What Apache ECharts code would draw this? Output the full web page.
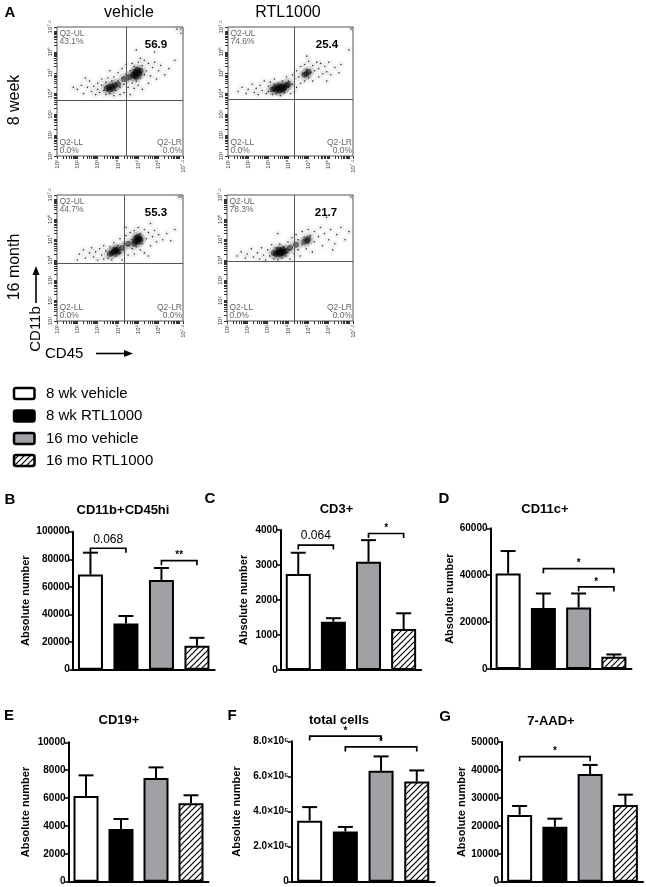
<!DOCTYPE html>
<html><head><meta charset="utf-8">
<script src="https://cdn.jsdelivr.net/npm/echarts@6/dist/echarts.min.js"></script>
<style>html,body{margin:0;padding:0;background:#fff}#c{width:646px;height:887px}</style>
</head><body><div id="c"></div>
<script>
// ---------------- DATA ----------------
const groups = ['8 wk vehicle', '8 wk RTL1000', '16 mo vehicle', '16 mo RTL1000'];
const colHeads = ['vehicle', 'RTL1000'];
const rowHeads = ['8 week', '16 month'];

// flow plots (A): percentages and gate positions (log decades)
const ulPct = ['43.1%', '74.6%', '44.7%', '78.3%'];
const urVal = ['56.9', '25.4', '55.3', '21.7'];
const llPct = ['0.0%', '0.0%', '0.0%', '0.0%'];
const lrPct = ['0.0%', '0.0%', '0.0%', '0.0%'];
const gateX = [4.40, 4.31, 4.33, 4.31];
const gateY = [3.70, 3.74, 3.85, 3.92];
const logTickLabels = [1, 2, 3, 4, 5, 6, 7.2];

// events [CD45 decade, CD11b decade]
const spread8wkVeh = [[2.0,4.2],[2.2,4.4],[2.3,4.0],[2.5,4.3],[2.6,4.6],[2.7,4.1],[2.8,4.35],[2.9,3.95],[3.0,4.5],[3.0,4.2],[3.1,4.05],[3.2,4.4],[3.2,4.7],[3.3,4.15],[3.4,3.95],[3.4,4.55],[3.5,4.75],[3.6,4.0],[3.7,4.6],[3.8,3.9],[3.8,4.8],[3.9,4.15],[4.0,4.6],[4.0,5.0],[4.1,4.3],[4.1,3.95],[4.2,4.75],[4.2,5.2],[4.3,4.45],[4.3,4.05],[4.4,4.9],[4.4,5.4],[4.5,4.3],[4.5,4.65],[4.6,5.1],[4.6,3.95],[4.7,4.5],[4.7,5.45],[4.8,4.25],[4.8,5.3],[4.9,4.6],[5.0,5.5],[5.0,4.4],[5.1,5.7],[5.1,4.75],[5.2,5.35],[5.2,4.2],[5.3,4.9],[5.3,5.6],[5.4,5.1],[5.5,4.5],[5.5,5.45],[5.6,4.85],[5.7,5.25],[5.8,5.5],[5.9,4.7],[6.0,5.1],[6.1,5.35],[6.3,4.9],[6.5,5.2],[3.6,5.1],[2.4,4.75],[1.8,4.3],[5.8,6.0],[4.9,6.1],[6.8,5.6],[7.1,7.1],[6.9,7.1],[7.1,6.9]];
const core8wkVeh = [[4.8,4.85],[4.9,4.95],[5.0,5.05],[5.05,4.95],[4.85,5.05],[4.95,5.15],[5.1,5.1],[4.75,4.9],[4.9,4.8],[3.55,4.3],[3.7,4.35],[3.85,4.4],[3.6,4.2],[3.75,4.25],[3.45,4.25],[4.0,4.45],[4.3,4.7],[4.55,4.8]];
const spread8wkRtl = [[1.5,4.1],[1.7,4.3],[1.9,4.0],[2.0,4.2],[2.2,4.45],[2.3,4.05],[2.4,4.25],[2.5,3.95],[2.6,4.4],[2.7,4.15],[2.8,4.6],[2.9,4.0],[3.0,4.35],[3.0,4.1],[3.1,4.55],[3.2,3.95],[3.3,4.45],[3.3,4.7],[3.4,4.0],[3.5,4.5],[3.6,3.9],[3.7,4.6],[3.8,4.05],[3.9,4.8],[4.0,4.3],[4.0,4.6],[4.1,4.0],[4.2,4.9],[4.2,4.45],[4.3,4.7],[4.4,5.1],[4.4,4.3],[4.5,4.8],[4.6,5.3],[4.6,4.5],[4.7,4.95],[4.8,5.4],[4.8,4.6],[4.9,5.15],[5.0,4.75],[5.0,5.55],[5.1,5.0],[5.2,5.35],[5.2,4.6],[5.3,5.1],[5.4,5.5],[5.5,4.8],[5.5,5.2],[5.6,5.45],[5.7,4.95],[5.8,5.3],[5.9,5.05],[6.0,5.5],[6.1,4.9],[6.3,5.25],[6.5,5.0],[6.6,5.4],[4.3,4.1],[5.9,4.6],[4.9,5.8],[7.1,7.1],[7.0,6.1]];
const core8wkRtl = [[3.5,4.25],[3.6,4.3],[3.7,4.2],[3.4,4.2],[3.8,4.3],[3.55,4.15],[3.65,4.35],[3.3,4.25],[3.9,4.4],[3.45,4.3],[3.75,4.25],[3.2,4.2],[4.0,4.45],[4.9,4.95],[5.0,5.05],[4.8,4.9]];
const spread16moVeh = [[2.1,4.3],[2.3,4.5],[2.4,4.1],[2.6,4.35],[2.7,4.6],[2.8,4.15],[2.9,4.4],[3.0,4.0],[3.1,4.55],[3.2,4.25],[3.3,4.05],[3.3,4.7],[3.4,4.45],[3.5,4.1],[3.6,4.65],[3.7,4.0],[3.8,4.85],[3.9,4.2],[4.0,4.7],[4.1,4.35],[4.1,5.05],[4.2,4.0],[4.3,4.8],[4.3,4.5],[4.4,5.2],[4.5,4.25],[4.5,4.7],[4.6,5.35],[4.7,4.55],[4.7,5.0],[4.8,4.3],[4.8,5.45],[4.9,4.65],[5.0,5.6],[5.1,4.5],[5.1,5.3],[5.2,4.8],[5.3,5.5],[5.3,4.35],[5.4,5.05],[5.5,5.35],[5.6,4.7],[5.7,5.15],[5.8,5.45],[5.9,4.9],[6.0,5.25],[6.2,5.0],[6.4,5.3],[6.6,4.95],[5.6,5.8],[4.4,5.6],[2.0,4.0],[5.5,4.2],[6.8,5.5],[7.1,7.1],[7.0,7.1]];
const core16moVeh = [[4.85,4.9],[4.95,5.0],[5.05,5.05],[5.0,4.9],[4.9,5.1],[5.1,5.0],[4.8,4.8],[5.0,5.15],[3.8,4.4],[3.9,4.45],[3.95,4.5],[3.7,4.35],[4.0,4.4],[3.85,4.5],[4.2,4.6],[4.5,4.8],[3.6,4.3]];
const spread16moRtl = [[1.5,4.2],[1.7,4.4],[1.9,4.1],[2.0,4.3],[2.2,4.55],[2.3,4.15],[2.5,4.35],[2.6,4.05],[2.7,4.6],[2.8,4.25],[2.9,4.0],[3.0,4.5],[3.1,4.2],[3.2,4.75],[3.3,4.05],[3.4,4.6],[3.5,4.0],[3.6,4.8],[3.7,4.1],[3.8,4.65],[3.9,4.2],[4.0,4.9],[4.1,4.05],[4.1,4.5],[4.2,5.1],[4.3,4.3],[4.3,4.75],[4.4,5.25],[4.5,4.5],[4.5,5.0],[4.6,4.2],[4.7,5.4],[4.7,4.75],[4.8,5.1],[4.9,4.55],[5.0,5.5],[5.0,4.85],[5.1,5.2],[5.2,4.4],[5.3,5.4],[5.3,4.9],[5.5,5.15],[5.6,5.6],[5.7,4.7],[5.8,5.3],[6.0,5.0],[6.1,5.5],[6.3,4.8],[6.4,5.25],[6.6,5.6],[6.8,5.0],[7.0,5.4],[6.2,4.5],[5.9,6.1],[3.5,5.3],[7.1,7.1]];
const core16moRtl = [[3.6,4.4],[3.7,4.35],[3.5,4.35],[3.65,4.45],[3.8,4.4],[3.4,4.3],[3.55,4.5],[3.75,4.5],[3.9,4.45],[3.3,4.35],[3.6,4.3],[4.8,4.9],[4.95,4.95],[5.0,5.05],[4.1,4.6],[4.4,4.75]];

// bar panels (B-G): means and SEM
const panelLetters = ['B', 'C', 'D', 'E', 'F', 'G'];
const panelTitles = ['CD11b+CD45hi', 'CD3+', 'CD11c+', 'CD19+', 'total cells', '7-AAD+'];
const meanB = [69000, 33500, 65000, 17300];   const semB = [15800, 5400, 8700, 5800];
const meanC = [2740, 1380, 3090, 1170];       const semC = [610, 100, 620, 450];
const meanD = [40700, 26000, 26200, 5200];    const semD = [9600, 6200, 6000, 1000];
const meanE = [6150, 3780, 7440, 5620];       const semE = [1480, 720, 760, 580];
const meanF = [348000, 286000, 632000, 571000]; const semF = [77000, 26000, 82000, 63000];
const meanG = [23900, 19700, 38550, 27450];   const semG = [3200, 2850, 3250, 3700];
const yMax  = [100000, 4000, 60000, 10000, 800000, 50000];
const yStep = [20000, 1000, 20000, 2000, 200000, 10000];
// significance brackets: [from group, to group, height, label]
const sigB = [[0, 1, 88000, '0.068'], [2, 3, 79000, '**']];
const sigC = [[0, 1, 3570, '0.064'], [2, 3, 3900, '*']];
const sigD = [[1, 3, 42800, '*'], [2, 3, 35000, '*']];
const sigE = [];
const sigF = [[0, 2, 830000, '*'], [1, 3, 768000, '*']];
const sigG = [[0, 2, 44750, '*']];

// ---------------- LAYOUT / STYLE ----------------
const FONT = 'Liberation Sans, Arial, sans-serif';
const scatterBoxes = [[57, 27, 126, 129], [228, 27, 125, 129], [57, 195, 126, 126], [227, 195, 126, 126]];
const barBoxes = [[72.7, 531.7, 142, 138], [280.7, 530, 140.5, 140], [490.5, 528.3, 141, 140.7],
                  [68.5, 742.3, 140, 139.4], [291.8, 741.3, 142.8, 140.4], [502, 742, 141, 139.7]];
const nameGaps = [41, 31, 35, 37, 49, 35];
const titlePos = [[123, 510], [336.5, 509], [545, 509], [119, 720], [339, 720], [551, 721]];
const letterPos = [[10, 500], [210, 499], [444, 499], [9, 716], [232, 716], [445, 717]];

const hatch = document.createElement('canvas');
hatch.width = 6; hatch.height = 6;
(function () {
  const g = hatch.getContext('2d');
  g.fillStyle = '#fff'; g.fillRect(0, 0, 6, 6);
  g.strokeStyle = '#000'; g.lineWidth = 1.2;
  g.beginPath();
  g.moveTo(-1, 7); g.lineTo(7, -1);
  g.moveTo(-1, 1); g.lineTo(1, -1);
  g.moveTo(5, 7); g.lineTo(7, 5);
  g.stroke();
})();
const hatchFill = { image: hatch, repeat: 'repeat' };
const fills = ['#ffffff', '#000000', '#a1a1a5', hatchFill];

const spreads = [spread8wkVeh, spread8wkRtl, spread16moVeh, spread16moRtl];
const cores = [core8wkVeh, core8wkRtl, core16moVeh, core16moRtl];
const means = [meanB, meanC, meanD, meanE, meanF, meanG];
const sems = [semB, semC, semD, semE, semF, semG];
const sigs = [sigB, sigC, sigD, sigE, sigF, sigG];

const sup = { '0': '⁰', '1': '¹', '2': '²', '3': '³', '4': '⁴', '5': '⁵', '6': '⁶', '7': '⁷', '.': '·' };
const logFmt = v => '10' + String(+(+v).toFixed(1)).split('').map(c => sup[c] || c).join('');
const logTicks = [];
for (let d = 1; d <= 7; d++) for (let k = 1; k <= 9; k++) {
  const v = d + Math.log10(k); if (v <= 7.2 + 1e-9) logTicks.push(+v.toFixed(4));
}
logTicks.push(7.2);

// ---------------- BUILD ----------------
const grid = [], xAxis = [], yAxis = [], series = [], graphic = [];

scatterBoxes.forEach((b, k) => {
  grid.push({ left: b[0], top: b[1], width: b[2], height: b[3], show: true, borderColor: '#555', borderWidth: 1,
              backgroundColor: '#fff', containLabel: false, outerBoundsMode: 'none' });
  const ax = () => ({
    gridIndex: k, type: 'value', min: 1, max: 7.2, splitLine: { show: false }, axisLine: { show: false },
    axisTick: { show: true, customValues: logTicks, length: 3, lineStyle: { color: '#333', width: 1 } },
    axisLabel: { customValues: logTickLabels, formatter: logFmt, fontSize: 6, rotate: 90, margin: 4, color: '#333', fontFamily: FONT }
  });
  xAxis.push(ax()); yAxis.push(ax());
  // faint haze around the scattered events
  series.push({ type: 'scatter', xAxisIndex: k, yAxisIndex: k, data: spreads[k], symbol: 'circle', symbolSize: 7,
                itemStyle: { color: '#000', opacity: 0.045 }, silent: true, z: 2 });
  // dense cores
  series.push({ type: 'scatter', xAxisIndex: k, yAxisIndex: k, data: cores[k], symbol: 'circle', symbolSize: 12,
                itemStyle: { color: '#000', opacity: 0.1 }, silent: true, z: 2 });
  series.push({ type: 'scatter', xAxisIndex: k, yAxisIndex: k, data: cores[k], symbol: 'circle', symbolSize: 6,
                itemStyle: { color: '#000', opacity: 0.5 }, silent: true, z: 3 });
  // individual events
  series.push({ type: 'scatter', xAxisIndex: k, yAxisIndex: k, data: spreads[k], symbol: 'circle', symbolSize: 1.6,
                itemStyle: { color: '#111', opacity: 0.85 }, silent: true, z: 4,
                markLine: { silent: true, symbol: ['none', 'none'], label: { show: false }, animation: false,
                            lineStyle: { color: '#555', width: 1, type: 'solid' },
                            data: [{ xAxis: gateX[k] }, { yAxis: gateY[k] }] } });
  const qs = { fill: '#666', fontSize: 8.5, lineHeight: 8, fontFamily: FONT };
  graphic.push({ type: 'text', x: b[0] + 2.5, y: b[1] + 3, z: 50, style: Object.assign({ text: 'Q2-UL\n' + ulPct[k], align: 'left', verticalAlign: 'top' }, qs) });
  graphic.push({ type: 'text', x: b[0] + 2.5, y: b[1] + b[3] - 1.5, z: 50, style: Object.assign({ text: 'Q2-LL\n' + llPct[k], align: 'left', verticalAlign: 'bottom' }, qs) });
  graphic.push({ type: 'text', x: b[0] + b[2] - 1, y: b[1] + b[3] - 1.5, z: 50, style: Object.assign({ text: 'Q2-LR\n' + lrPct[k], align: 'right', verticalAlign: 'bottom' }, qs) });
  graphic.push({ type: 'text', x: b[0] + 99, y: b[1] + 18, z: 50, style: { text: urVal[k], align: 'center', verticalAlign: 'middle', fontSize: 11.5, fontWeight: 'bold', fill: '#000', fontFamily: FONT } });
});

barBoxes.forEach((b, k) => {
  const gi = 4 + k;
  grid.push({ left: b[0], top: b[1], width: b[2], height: b[3], containLabel: false, outerBoundsMode: 'none' });
  xAxis.push({ gridIndex: gi, type: 'category', data: groups, axisLine: { show: true, lineStyle: { color: '#000', width: 2 } },
               axisTick: { show: false }, axisLabel: { show: false }, splitLine: { show: false } });
  yAxis.push({ gridIndex: gi, type: 'value', min: 0, max: yMax[k], interval: yStep[k], splitLine: { show: false },
               axisLine: { show: true, lineStyle: { color: '#000', width: 2 } },
               axisTick: { show: true, length: 4, lineStyle: { color: '#000', width: 1.5 } },
               axisLabel: { fontSize: 10, fontWeight: 'bold', color: '#000', margin: 3, fontFamily: FONT,
                            formatter: k === 4 ? (v => v === 0 ? '0' : (v / 1e5).toFixed(1) + '×10⁵') : (v => String(v)) },
               name: 'Absolute number', nameLocation: 'middle', nameGap: nameGaps[k],
               nameTextStyle: { fontSize: 11, fontWeight: 'bold', color: '#000', fontFamily: FONT } });
  series.push({ type: 'bar', xAxisIndex: gi, yAxisIndex: gi, barWidth: 25, silent: true, z: 2,
                data: means[k].map((v, i) => ({ value: v, itemStyle: { color: fills[i] } })),
                itemStyle: { borderColor: '#000', borderWidth: 2 } });
  const sm = sems[k];
  series.push({ type: 'custom', xAxisIndex: gi, yAxisIndex: gi, silent: true, clip: false, z: 4,
    data: means[k].map((m, i) => [i, m, m + sm[i]]), encode: { x: 0, y: [1, 2] },
    renderItem(params, api) {
      const i = api.value(0);
      const p0 = api.coord([i, api.value(1)]), p1 = api.coord([i, api.value(2)]);
      return { type: 'group', children: [
        { type: 'line', shape: { x1: p0[0], y1: p0[1], x2: p0[0], y2: p1[1] }, style: { stroke: '#000', lineWidth: 2 } },
        { type: 'line', shape: { x1: p0[0] - 7.5, y1: p1[1], x2: p0[0] + 7.5, y2: p1[1] }, style: { stroke: '#000', lineWidth: 2 } }
      ] };
    } });
  const sg = sigs[k];
  if (sg.length) series.push({ type: 'custom', xAxisIndex: gi, yAxisIndex: gi, silent: true, clip: false, z: 5,
    data: sg.map(s => [s[0], s[2]]), encode: { x: 0, y: 1 },
    renderItem(params, api) {
      const s = sg[params.dataIndex];
      const a = api.coord([s[0], s[2]]), c = api.coord([s[1], s[2]]);
      const y = a[1];
      const star = s[3].indexOf('*') >= 0;
      return { type: 'group', children: [
        { type: 'polyline', shape: { points: [[a[0], y + 4.5], [a[0], y], [c[0], y], [c[0], y + 4.5]] },
          style: { stroke: '#000', lineWidth: 1.7, fill: null } },
        { type: 'text', x: (a[0] + c[0]) / 2, y: star ? y - 10 : y - 3,
          style: { text: s[3], align: 'center', verticalAlign: star ? 'top' : 'bottom', fontSize: star ? 10 : 12,
                   fontWeight: star ? 'bold' : 'normal', fill: '#000', fontFamily: FONT } }
      ] };
    } });
  graphic.push({ type: 'text', x: titlePos[k][0], y: titlePos[k][1], style: { text: panelTitles[k], align: 'center', verticalAlign: 'middle', fontSize: 13, fontWeight: 'bold', fill: '#000', fontFamily: FONT } });
  graphic.push({ type: 'text', x: letterPos[k][0], y: letterPos[k][1], style: { text: panelLetters[k], align: 'center', verticalAlign: 'middle', fontSize: 15, fontWeight: 'bold', fill: '#000', fontFamily: FONT } });
});

// panel A headings
graphic.push({ type: 'text', x: 10, y: 13, style: { text: 'A', align: 'center', verticalAlign: 'middle', fontSize: 15, fontWeight: 'bold', fill: '#000', fontFamily: FONT } });
graphic.push({ type: 'text', x: 129, y: 13, style: { text: colHeads[0], align: 'center', verticalAlign: 'middle', fontSize: 16, fill: '#000', fontFamily: FONT } });
graphic.push({ type: 'text', x: 288, y: 13, style: { text: colHeads[1], align: 'center', verticalAlign: 'middle', fontSize: 16, fill: '#000', fontFamily: FONT } });
graphic.push({ type: 'text', x: 15, y: 100, rotation: Math.PI / 2, style: { text: rowHeads[0], align: 'center', verticalAlign: 'middle', fontSize: 16, fill: '#000', fontFamily: FONT } });
graphic.push({ type: 'text', x: 14.5, y: 267, rotation: Math.PI / 2, style: { text: rowHeads[1], align: 'center', verticalAlign: 'middle', fontSize: 16, fill: '#000', fontFamily: FONT } });
graphic.push({ type: 'text', x: 36, y: 329, rotation: Math.PI / 2, style: { text: 'CD11b', align: 'center', verticalAlign: 'middle', fontSize: 15, fill: '#000', fontFamily: FONT } });
graphic.push({ type: 'line', shape: { x1: 36, y1: 303, x2: 36, y2: 273 }, style: { stroke: '#000', lineWidth: 1.6 } });
graphic.push({ type: 'polygon', shape: { points: [[36, 266], [32.5, 275], [39.5, 275]] }, style: { fill: '#000' } });
graphic.push({ type: 'text', x: 45, y: 354, style: { text: 'CD45', align: 'left', verticalAlign: 'middle', fontSize: 15, fill: '#000', fontFamily: FONT } });
graphic.push({ type: 'line', shape: { x1: 96, y1: 353.5, x2: 126, y2: 353.5 }, style: { stroke: '#000', lineWidth: 1.6 } });
graphic.push({ type: 'polygon', shape: { points: [[133, 353.5], [124, 350], [124, 357]] }, style: { fill: '#000' } });

// legend
const legendY = [393.5, 416, 438.5, 460.5];
groups.forEach((g, i) => {
  graphic.push({ type: 'rect', shape: { x: 14, y: legendY[i] - 5.5, width: 20.5, height: 11, r: 2 },
                 style: { fill: fills[i], stroke: '#000', lineWidth: 2.5 } });
  graphic.push({ type: 'text', x: 46, y: legendY[i], style: { text: g, align: 'left', verticalAlign: 'middle', fontSize: 15, fill: '#000', fontFamily: FONT } });
});

const chart = echarts.init(document.getElementById('c'), null, { renderer: 'canvas', width: 646, height: 887 });
chart.setOption({
  animation: false,
  backgroundColor: '#fff',
  textStyle: { fontFamily: FONT },
  grid, xAxis, yAxis, series, graphic
});
</script>
</body></html>
